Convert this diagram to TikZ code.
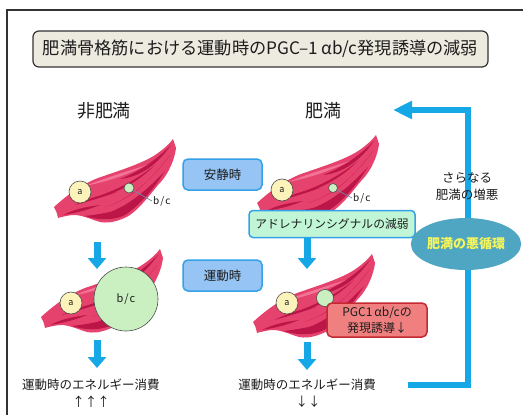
\documentclass[tikz,border=0pt]{standalone}
\usepackage{fontspec}
\setmainfont{Noto Sans CJK JP}
\usepackage{tikz}
\usetikzlibrary{arrows.meta}
\usetikzlibrary{shapes.geometric}
\definecolor{musred}{RGB}{230,66,110}
\definecolor{musdark}{RGB}{188,22,72}
\definecolor{muslight}{RGB}{242,116,150}
\definecolor{arrblue}{RGB}{22,168,230}
\definecolor{boxblue}{RGB}{150,196,244}
\definecolor{edgeblue}{RGB}{52,162,232}
\definecolor{boxgreen}{RGB}{192,246,214}
\definecolor{boxred}{RGB}{240,128,128}
\definecolor{edgered}{RGB}{196,40,48}
\definecolor{loopteal}{RGB}{78,166,194}
\definecolor{loopyellow}{RGB}{246,246,92}
\definecolor{titlegray}{RGB}{237,234,224}
\definecolor{cira}{RGB}{251,243,186}
\definecolor{cirbc}{RGB}{202,240,194}
\definecolor{inkgray}{RGB}{28,28,28}
\definecolor{leadgray}{RGB}{108,138,170}

% one muscle, drawn around (#1,#2)
\newcommand{\drawmuscle}[2]{%
\begin{scope}[shift={(#1,#2)}]
\fill[musred] (-61,22) .. controls (-50,12) and (-35,0) .. (-17,-7)
  .. controls (0,-13) and (30,-22) .. (43,-32)
  .. controls (50,-37) and (55,-42) .. (58,-46) -- (61,-37)
  .. controls (60,-28) and (55,-12) .. (43,0)
  .. controls (33,12) and (20,30) .. (7,34)
  .. controls (-3,38) and (-10,38) .. (-15,37)
  .. controls (-22,35) and (-26,33) .. (-30,32)
  .. controls (-36,30) and (-40,30) .. (-43,30)
  .. controls (-49,31) and (-54,32) .. (-57,33)
  .. controls (-58,28) and (-59,25) .. (-61,22) -- cycle;
% lower band and streaks
\fill[musdark] (-30,31) .. controls (-15,36) and (0,35) .. (10,30)
  .. controls (25,20) and (38,5) .. (50,-14)
  .. controls (35,2) and (15,20) .. (-5,27)
  .. controls (-15,29) and (-22,30) .. (-30,31) -- cycle;
\fill[musdark] (-25,14) .. controls (0,6) and (20,-4) .. (40,-20)
  .. controls (22,-2) and (0,10) .. (-25,14) -- cycle;
\fill[musdark] (-10,22) .. controls (15,14) and (32,0) .. (55,-30)
  .. controls (36,-4) and (15,14) .. (-10,22) -- cycle;
\fill[musdark] (-52,30) .. controls (-40,24) and (-30,22) .. (-15,20)
  .. controls (-30,26) and (-40,28) .. (-52,30) -- cycle;
\fill[musdark] (5,-6) .. controls (25,-14) and (40,-24) .. (56,-40)
  .. controls (42,-20) and (25,-8) .. (5,-6) -- cycle;
\fill[musdark] (-40,20) .. controls (-25,13) and (-12,9) .. (2,7)
  .. controls (-12,12) and (-25,16) .. (-40,20) -- cycle;
\fill[muslight] (-30,1) .. controls (-10,-7) and (10,-13) .. (32,-20)
  .. controls (10,-9) and (-10,-3) .. (-30,1) -- cycle;
\end{scope}}

\begin{document}
\begin{tikzpicture}[
x = 1pt, y = -1pt,
every node/.style={text = inkgray},
titlerect/.style={rectangle, align = center,
draw = black!80, line width = 1.2pt,
fill = titlegray, rounded corners = 6pt, minimum width = 455pt, minimum height = 36pt,
font = \fontsize{17.2}{19}\selectfont},
staterect/.style={rectangle, align = center,
draw = edgeblue, line width = 1.5pt,
fill = boxblue, rounded corners = 5pt, minimum width = 79pt, minimum height = 31pt,
font = \fontsize{12.5}{14}\selectfont},
sigrect/.style={rectangle, align = center,
draw = edgeblue, line width = 1.5pt,
fill = boxgreen, rounded corners = 4pt, minimum width = 166pt, minimum height = 27pt,
font = \fontsize{11.8}{14}\selectfont},
pgcrect/.style={rectangle, align = center,
draw = edgered, line width = 1.5pt,
fill = boxred, rounded corners = 5pt, minimum width = 100pt, minimum height = 34pt,
inner sep = 1pt, font = \fontsize{12}{15.5}\selectfont},
headtext/.style={font = \fontsize{18}{20}\selectfont},
bodytext/.style={align = center, font = \fontsize{12.5}{17}\selectfont},
acirc/.style={circle, draw = black!70, line width = 0.6pt, fill = cira,
inner sep = 0, minimum size = 22pt, font = \fontsize{9}{10}\selectfont},
bccirc/.style={circle, draw = black!70, line width = 0.6pt, fill = cirbc,
inner sep = 0, font = \fontsize{11}{12}\selectfont},
bclab/.style={font = \fontsize{10}{11}\selectfont, anchor = west, inner sep = 1pt},
leader/.style={draw = leadgray, line width = 0.7pt},
bluearr/.style={-{Triangle[width = 18pt, length = 11pt]}, line width = 7pt, draw = arrblue},
looparr/.style={-{Triangle[width = 17pt, length = 19pt]}, line width = 6pt, draw = arrblue}]

\useasboundingbox (0,0) rectangle (523,415);

% frame
\draw[line width = 1.5pt, draw = black!80] (7,416) -- (7,10) -- (524,10);

\node[titlerect] (T) at (260.5,49) {肥満骨格筋における運動時のPGC–1\,αb/c発現誘導の減弱};
\node[headtext] (NF) at (104,111) {非肥満};
\node[headtext] (F) at (323,111) {肥満};

% muscles
\drawmuscle{115}{185}
\drawmuscle{318}{181}
\drawmuscle{102}{295}
\drawmuscle{314}{300}

% at rest, non-obese
\node[acirc] (a1) at (80,192) {a};
\node[bccirc, minimum size = 10pt] (g1) at (129,188) {};
\node[bclab] (bc1) at (152,201) {b\kern1pt/\kern1pt c};
\draw[leader] (g1) -- (bc1.west);

% at rest, obese
\node[acirc] (a2) at (282,190) {a};
\node[bccirc, minimum size = 9pt] (g2) at (333,188) {};
\node[bclab] (bc2) at (352,198) {b\kern1pt/\kern1pt c};
\draw[leader] (g2) -- (bc2.west);

% exercise, non-obese
\node[acirc] (a3) at (71,303) {a};
\node[bccirc, minimum size = 64pt] (g3) at (126,299) {b\kern1pt/\kern1pt c};

% exercise, obese
\node[acirc] (a4) at (287,303) {a};
\node[bccirc, minimum size = 17pt] (g4) at (325,298) {};

\node[staterect] (R) at (222.5,174.5) {安静時};
\node[staterect] (E) at (222.5,275.5) {運動時};
\node[sigrect] (AS) at (332,224) {アドレナリンシグナルの減弱};
\node[pgcrect] (PGC) at (377,320) {PGC1\,αb/cの\\発現誘導↓};

% energy use
\node[bodytext] (EL) at (91,385) {運動時のエネルギー消費};
\node[bodytext] (UL) at (91,402) {↑↑↑};
\node[bodytext] (ER) at (307,385) {運動時のエネルギー消費};
\node[bodytext] (DR) at (308,402) {↓↓};

% down arrows
\coordinate (L1s) at (97,242);
\coordinate (L1e) at (97,269);
\coordinate (L2s) at (97,340);
\coordinate (L2e) at (97,368);
\coordinate (R1e) at (307,269);
\coordinate (R2s) at (307,342);
\coordinate (R2e) at (307,370);
\draw[bluearr] (L1s) -- (L1e);
\draw[bluearr] (L2s) -- (L2e);
\draw[bluearr] (AS.south -| R1e) -- (R1e);
\draw[bluearr] (R2s) -- (R2e);

% vicious circle
\coordinate (lp0) at (408,385);
\coordinate (lp1) at (468,385);
\coordinate (lp2) at (468,110);
\coordinate (lp3) at (393,110);
\draw[looparr] (lp0) -- (lp1) -- (lp2) -- (lp3);
\node[bodytext] (W) at (467,186) {さらなる\\肥満の増悪};
\node[ellipse, fill = loopteal, inner sep = 0, minimum width = 97pt, minimum height = 52pt,
text = loopyellow, font = \fontsize{13}{14}\selectfont\bfseries] (VC) at (466,244) {肥満の悪循環};

\end{tikzpicture}
\end{document}
